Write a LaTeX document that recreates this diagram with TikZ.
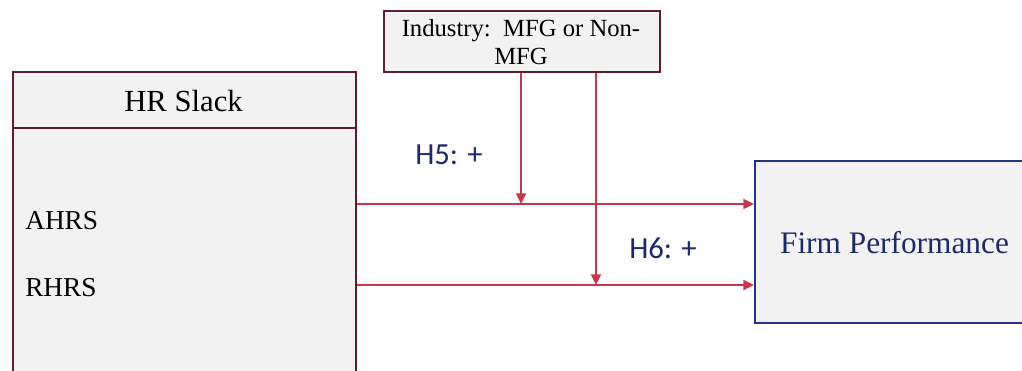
\documentclass[tikz,border=0pt]{standalone}
\usepackage{fontspec}
\setmainfont{Liberation Serif}
\newfontfamily\labelfont{Carlito}
\usetikzlibrary{arrows.meta}
\definecolor{boxfill}{HTML}{F2F2F2}
\definecolor{maroon}{HTML}{5E1C2C}
\definecolor{linkred}{HTML}{C8364E}
\definecolor{navyline}{HTML}{1F3484}
\definecolor{navytext}{HTML}{1C2A6A}
\tikzset{
  box/.style={draw=maroon, fill=boxfill, line width=1.4pt, inner sep=0pt, anchor=north west},
  link/.style={draw=linkred, line width=1.4pt, -{Triangle[length=8pt,width=7.5pt]}},
  hyp/.style={font=\labelfont\fontsize{23}{27}\selectfont, text=navytext, inner sep=0pt}
}
\begin{document}
\begin{tikzpicture}[x=0.75pt, y=-0.75pt]
\useasboundingbox (0,0) rectangle (1022,371);
% HR slack block with its header strip
\node[box, minimum width=257.25pt, minimum height=239.25pt] (hr) at (12,71) {};
\draw[maroon, line width=1.4pt] (12,128) coordinate (hl) -- (hl -| hr.east);
\node[font=\fontsize{23}{27}\selectfont, inner sep=0pt] (hrt) at (183.5,101) {HR Slack};
\node[font=\fontsize{20.5}{24}\selectfont, anchor=west, inner sep=0pt] (ahrs) at (25,221) {AHRS};
\node[font=\fontsize{20.5}{24}\selectfont, anchor=west, inner sep=0pt] (rhrs) at (25,288) {RHRS};
% moderator
\node[box, minimum width=207pt, minimum height=45.75pt] (ind) at (383,10) {};
\node[font=\fontsize{18.5}{22}\selectfont, align=center, inner sep=0pt] (indt) at (521,42)
  {Industry:\ \ MFG or Non-\\[-1pt]MFG};
% outcome
\node[box, draw=navyline, minimum width=210.75pt, minimum height=121.5pt] (firm) at (754,160) {};
\node[font=\fontsize{23.5}{28}\selectfont, text=navytext, inner sep=0pt] (firmt) at (894.5,243) {Firm Performance};
% paths
\coordinate (m5) at (521,204);
\coordinate (m6) at (596,285);
\draw[link] (hr.east |- m5) -- (firm.west |- m5);
\draw[link] (hr.east |- m6) -- (firm.west |- m6);
\draw[link] (ind.south -| m5) -- (m5);
\draw[link] (ind.south -| m6) -- (m6);
\node[hyp] (h5) at (449,155) {H5: +};
\node[hyp] (h6) at (663,248) {H6: +};
\end{tikzpicture}
\end{document}
